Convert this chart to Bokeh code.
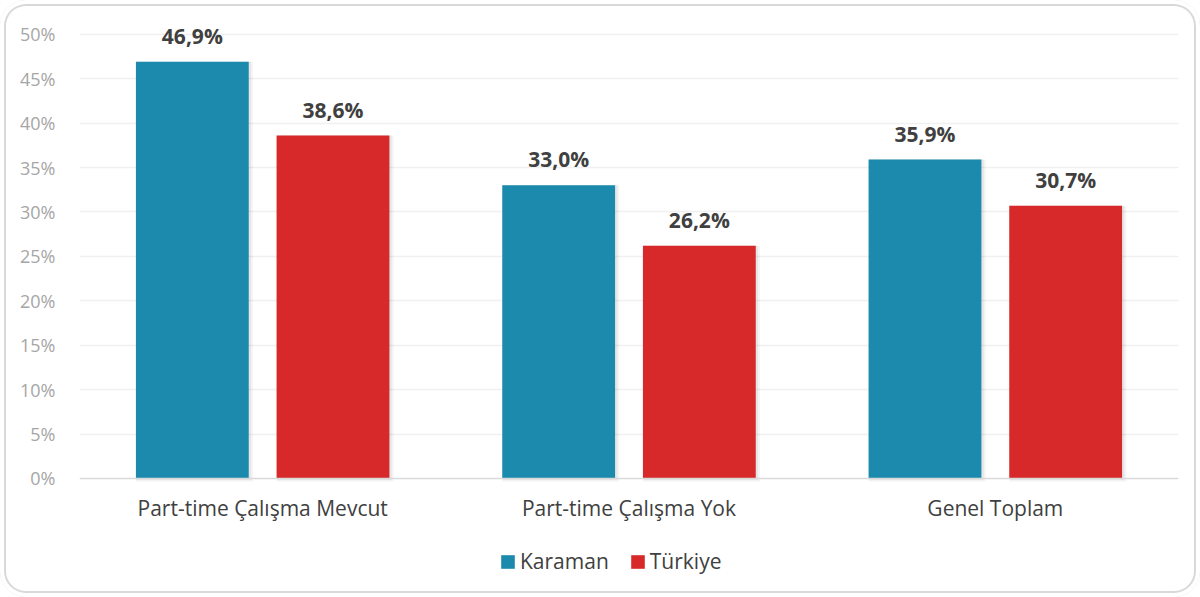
from bokeh.plotting import figure
from bokeh.models import ColumnDataSource, FactorRange, PrintfTickFormatter, Legend, LegendItem, FixedTicker, Range1d
from bokeh.transform import dodge
from bokeh.core.properties import value
from bokeh.embed import file_html
from bokeh.resources import INLINE

categories = ["Part-time Çalışma Mevcut", "Part-time Çalışma Yok", "Genel Toplam"]
karaman = [46.9, 33.0, 35.9]
turkiye = [38.6, 26.2, 30.7]
series_names = ["Karaman", "Türkiye"]
y_ticks = [0, 5, 10, 15, 20, 25, 30, 35, 40, 45, 50]

def fmt(v):
    return f"{v:.1f}".replace(".", ",") + "%"

src = ColumnDataSource(dict(
    cat=categories,
    karaman=karaman,
    turkiye=turkiye,
    k_lbl=[fmt(v) for v in karaman],
    t_lbl=[fmt(v) for v in turkiye],
))

FONT = "Open Sans"
C_K = "#1b8aad"
C_T = "#d7282a"

p = figure(x_range=FactorRange(factors=categories, range_padding=0),
           y_range=Range1d(-13.4, 52), width=1200, height=597,
           output_backend="svg", toolbar_location=None,
           min_border_left=79, min_border_right=22, min_border_top=16, min_border_bottom=0)
p.background_fill_alpha = 0
p.border_fill_alpha = 0

off = 0.192
bw = 0.308

# soft shadows behind bars
for col, sign in (("karaman", -1), ("turkiye", 1)):
    p.vbar(x=dodge("cat", sign * off + 0.006, range=p.x_range), top=col, bottom=-0.35,
           width=bw + 0.012, source=src, fill_color="#000000", fill_alpha=0.04, line_color=None)
    p.vbar(x=dodge("cat", sign * off + 0.004, range=p.x_range), top=col, bottom=-0.2,
           width=bw + 0.005, source=src, fill_color="#000000", fill_alpha=0.06, line_color=None)

rk = p.vbar(x=dodge("cat", -off, range=p.x_range), top="karaman", width=bw, source=src,
            fill_color=C_K, line_color=None)
rt = p.vbar(x=dodge("cat", off, range=p.x_range), top="turkiye", width=bw, source=src,
            fill_color=C_T, line_color=None)

p.text(x=dodge("cat", -off, range=p.x_range), y="karaman", text="k_lbl", source=src,
       text_align="center", text_baseline="bottom", y_offset=-12,
       text_font=value(FONT), text_font_style="bold", text_font_size="21px", text_color="#404040")
p.text(x=dodge("cat", off, range=p.x_range), y="turkiye", text="t_lbl", source=src,
       text_align="center", text_baseline="bottom", y_offset=-12,
       text_font=value(FONT), text_font_style="bold", text_font_size="21px", text_color="#404040")

p.outline_line_color = None
p.xgrid.grid_line_color = None
p.ygrid.ticker = FixedTicker(ticks=y_ticks[1:])
p.ygrid.grid_line_color = "#f0f0f0"
p.ygrid.grid_line_width = 1.5

p.yaxis.ticker = FixedTicker(ticks=y_ticks)
p.yaxis.formatter = PrintfTickFormatter(format="%d%%")
p.yaxis.axis_line_color = None
p.yaxis.major_tick_line_color = None
p.yaxis.minor_tick_line_color = None
p.yaxis.major_label_text_font = FONT
p.yaxis.major_label_text_font_size = "18px"
p.yaxis.major_label_text_color = "#a6a6a6"
p.yaxis.major_label_standoff = 18

p.xaxis.fixed_location = 0
p.xaxis.axis_line_color = "#d9d9d9"
p.xaxis.axis_line_width = 1.5
p.xaxis.major_tick_line_color = None
p.xaxis.minor_tick_line_color = None
p.xaxis.major_label_text_font = FONT
p.xaxis.major_label_text_font_size = "21px"
p.xaxis.major_label_text_color = "#404040"
p.xaxis.major_label_standoff = 10

legend = Legend(items=[LegendItem(label=series_names[0], renderers=[rk]),
                       LegendItem(label=series_names[1], renderers=[rt])],
                orientation="horizontal", location=(420, 22),
                label_text_font=FONT, label_text_font_size="21px", label_text_color="#404040",
                glyph_width=17, glyph_height=17, label_standoff=4, spacing=20,
                border_line_color=None, background_fill_alpha=0, margin=0, padding=4)
p.add_layout(legend)

p.styles = {"background": "white",
            "box-shadow": "inset 0 0 0 4px white, inset 0 0 0 6px #d9d9d9",
            "border-radius": "26px"}

open("out.html", "w").write(file_html(p, INLINE))
